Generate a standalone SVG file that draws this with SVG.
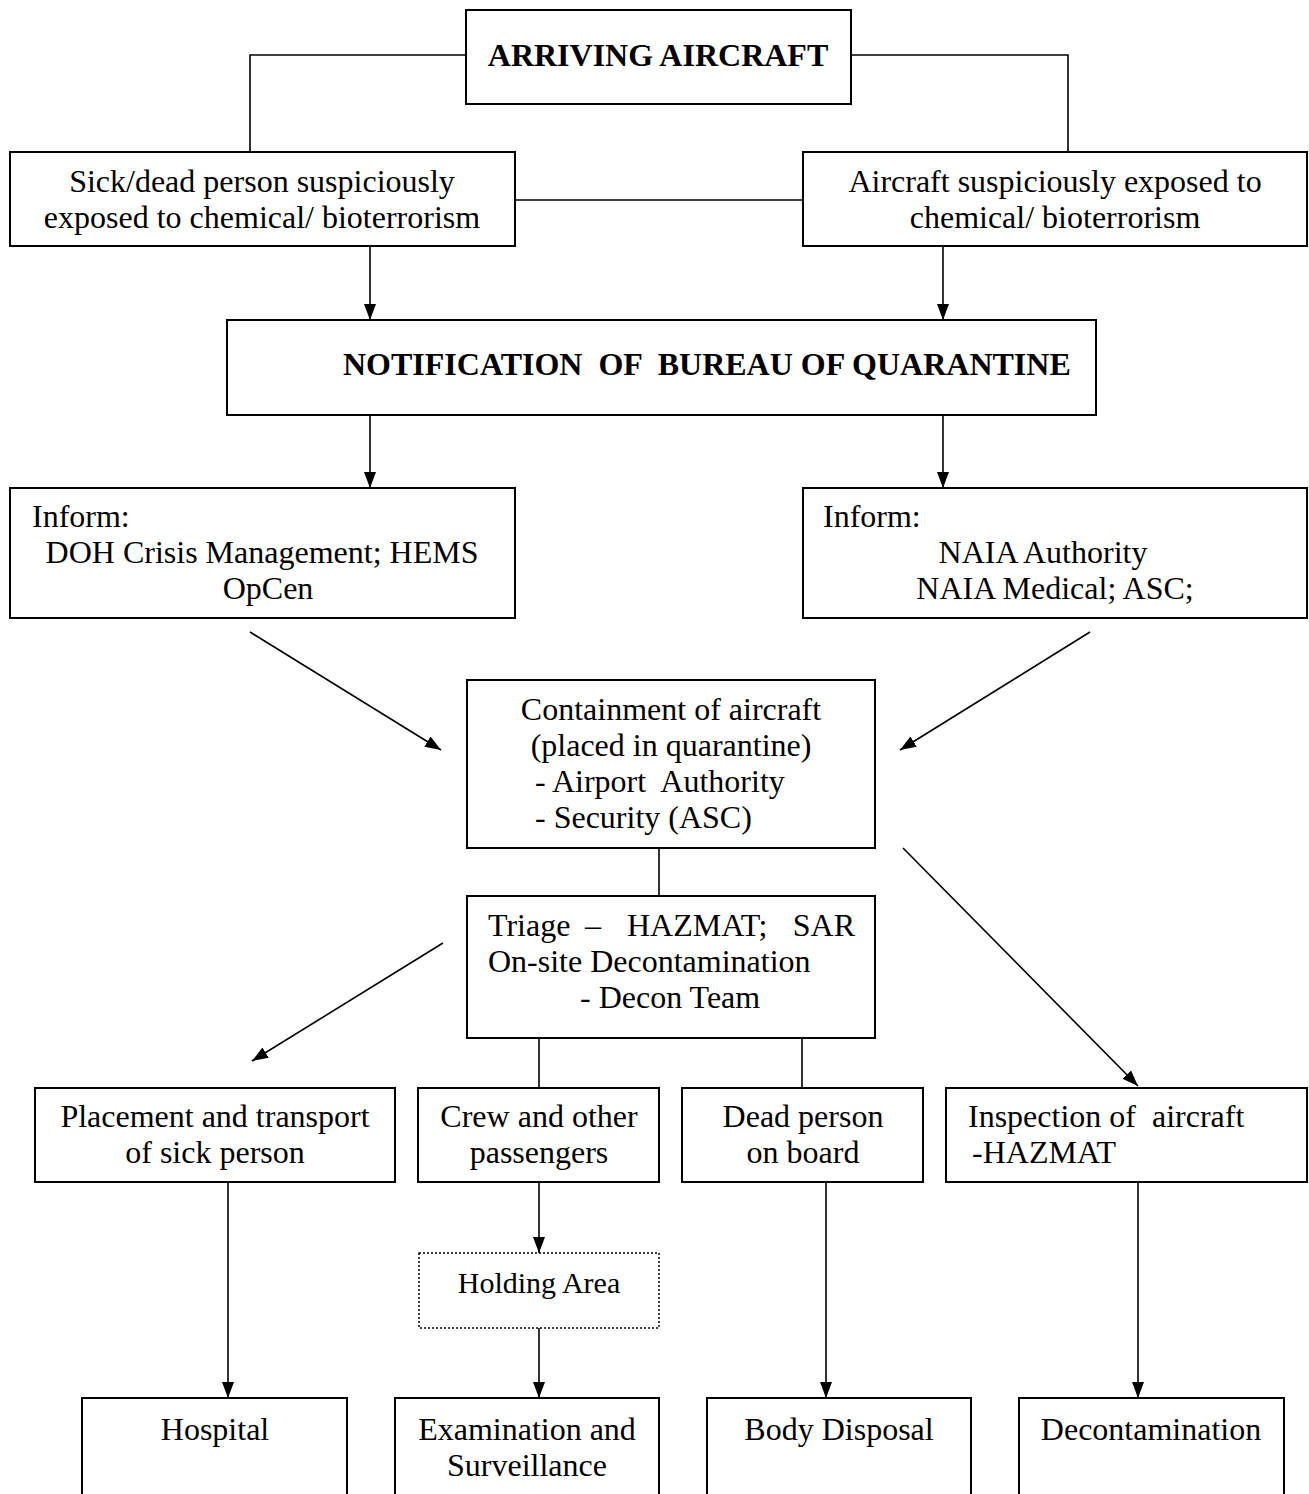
<svg xmlns="http://www.w3.org/2000/svg" width="1309" height="1494" viewBox="0 0 1309 1494">
<defs>
<marker id="ah" markerWidth="16" markerHeight="12" refX="16" refY="6" orient="auto" markerUnits="userSpaceOnUse" viewBox="0 0 16 12">
<path d="M0,0 L16,6 L0,12 z" fill="#000"/>
</marker>
<style>
rect{fill:#fff;stroke:#000;stroke-width:2}
rect.dot{stroke-width:1.5;stroke-dasharray:2,2}
text{font-family:"Liberation Serif","Times New Roman",serif;font-size:32px;fill:#000}
.c{text-anchor:middle}
.r{text-anchor:end}
.b{font-weight:bold}
.s{font-size:30px}
.conn line,.conn polyline{stroke:#000;stroke-width:1.6;fill:none}
.conn .a{marker-end:url(#ah)}
</style>
</defs>
<rect width="1309" height="1494" style="fill:#fff;stroke:none"/>
<g class="conn">
<polyline points="466,55 250,55 250,152"/>
<polyline points="851,55 1068,55 1068,152"/>
<line x1="515" y1="200" x2="803" y2="200"/>
<line class="a" x1="370" y1="246" x2="370" y2="320"/>
<line class="a" x1="943" y1="246" x2="943" y2="320"/>
<line class="a" x1="370" y1="415" x2="370" y2="488"/>
<line class="a" x1="943" y1="415" x2="943" y2="488"/>
<line class="a" x1="250" y1="632" x2="441" y2="750"/>
<line class="a" x1="1090" y1="632" x2="900" y2="750"/>
<line x1="659" y1="848" x2="659" y2="896"/>
<line class="a" x1="443" y1="943" x2="252" y2="1061"/>
<line class="a" x1="903" y1="848" x2="1138" y2="1086"/>
<line x1="539" y1="1038" x2="539" y2="1088"/>
<line x1="802" y1="1038" x2="802" y2="1088"/>
<line class="a" x1="228" y1="1182" x2="228" y2="1398"/>
<line class="a" x1="539" y1="1182" x2="539" y2="1253"/>
<line class="a" x1="539" y1="1328" x2="539" y2="1398"/>
<line class="a" x1="826" y1="1182" x2="826" y2="1398"/>
<line class="a" x1="1138" y1="1182" x2="1138" y2="1398"/>
</g>
<g id="arriving">
<rect x="466" y="10" width="385" height="94"/>
<text class="c b" x="658" y="66">ARRIVING AIRCRAFT</text>
</g>
<g id="sick">
<rect x="10" y="152" width="505" height="94"/>
<text class="c" x="262" y="192">Sick/dead person suspiciously</text>
<text class="c" x="262" y="228">exposed to chemical/ bioterrorism</text>
</g>
<g id="aircraft">
<rect x="803" y="152" width="504" height="94"/>
<text class="c" x="1055" y="192">Aircraft suspiciously exposed to</text>
<text class="c" x="1055" y="228">chemical/ bioterrorism</text>
</g>
<g id="notification">
<rect x="227" y="320" width="869" height="95"/>
<text class="b" x="343" y="375" xml:space="preserve">NOTIFICATION  OF  BUREAU OF QUARANTINE</text>
</g>
<g id="inform-left">
<rect x="10" y="488" width="505" height="130"/>
<text x="32" y="527">Inform:</text>
<text class="c" x="262" y="563">DOH Crisis Management; HEMS</text>
<text class="c" x="268" y="599">OpCen</text>
</g>
<g id="inform-right">
<rect x="803" y="488" width="504" height="130"/>
<text x="823" y="527">Inform:</text>
<text class="c" x="1043" y="563">NAIA Authority</text>
<text class="c" x="1055" y="599">NAIA Medical; ASC;</text>
</g>
<g id="containment">
<rect x="467" y="680" width="408" height="168"/>
<text class="c" x="671" y="720">Containment of aircraft</text>
<text class="c" x="671" y="756">(placed in quarantine)</text>
<text x="535" y="792" xml:space="preserve">- Airport  Authority</text>
<text x="535" y="828">- Security (ASC)</text>
</g>
<g id="triage">
<rect x="467" y="896" width="408" height="142"/>
<text x="488" y="936">Triage</text>
<text x="585" y="936">–</text>
<text x="627" y="936">HAZMAT;</text>
<text class="r" x="855" y="936">SAR</text>
<text x="488" y="972">On-site Decontamination</text>
<text x="580" y="1008">- Decon Team</text>
</g>
<g id="placement">
<rect x="35" y="1088" width="360" height="94"/>
<text class="c" x="215" y="1127">Placement and transport</text>
<text class="c" x="215" y="1163">of sick person</text>
</g>
<g id="crew">
<rect x="418" y="1088" width="241" height="94"/>
<text class="c" x="539" y="1127">Crew and other</text>
<text class="c" x="539" y="1163">passengers</text>
</g>
<g id="dead">
<rect x="682" y="1088" width="241" height="94"/>
<text class="c" x="803" y="1127">Dead person</text>
<text class="c" x="803" y="1163">on board</text>
</g>
<g id="inspection">
<rect x="946" y="1088" width="361" height="94"/>
<text x="968" y="1127" xml:space="preserve">Inspection of  aircraft</text>
<text x="972" y="1163">-HAZMAT</text>
</g>
<g id="holding">
<rect class="dot" x="419" y="1253" width="240" height="75"/>
<text class="c s" x="539" y="1293">Holding Area</text>
</g>
<g id="hospital">
<rect x="82" y="1398" width="265" height="110"/>
<text class="c" x="215" y="1440">Hospital</text>
</g>
<g id="examination">
<rect x="395" y="1398" width="264" height="110"/>
<text class="c" x="527" y="1440">Examination and</text>
<text class="c" x="527" y="1476">Surveillance</text>
</g>
<g id="body">
<rect x="707" y="1398" width="264" height="110"/>
<text class="c" x="839" y="1440">Body Disposal</text>
</g>
<g id="decontamination">
<rect x="1019" y="1398" width="265" height="110"/>
<text class="c" x="1151" y="1440">Decontamination</text>
</g>
</svg>
